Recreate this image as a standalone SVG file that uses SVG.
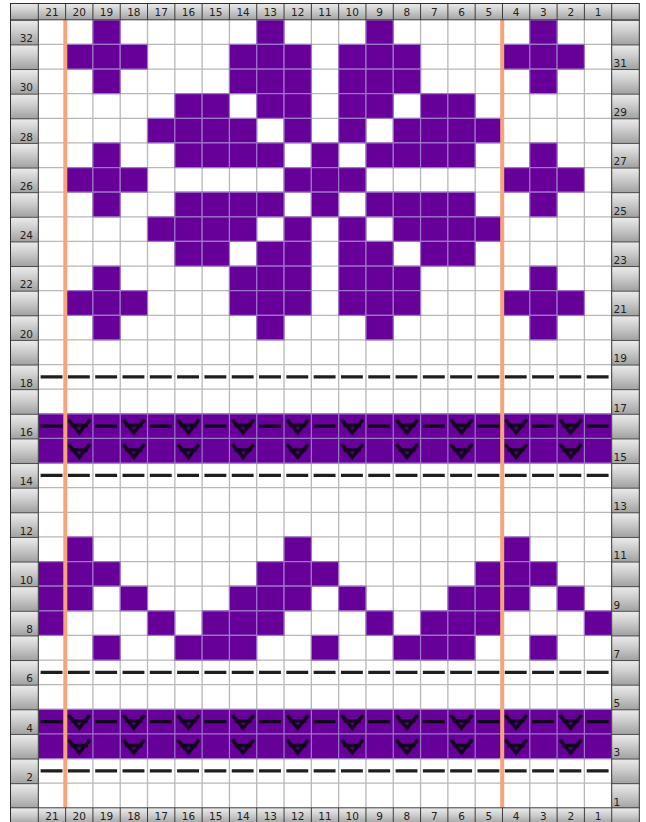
<svg xmlns="http://www.w3.org/2000/svg" width="646" height="822" viewBox="0 0 646 822">
<style>
.num{font-family:"DejaVu Sans","Liberation Sans",sans-serif;font-size:10.5px;fill:#222}
.hc{text-anchor:middle}
.le{text-anchor:end}
</style>
<defs>
<linearGradient id="gg" x1="0" y1="0" x2="0" y2="1">
<stop offset="0" stop-color="#ededed"/><stop offset="0.45" stop-color="#cecece"/><stop offset="1" stop-color="#a2a2a2"/>
</linearGradient>
<pattern id="mp" patternUnits="userSpaceOnUse" x="0" y="19.8" width="646" height="24.625">
<rect width="646" height="24.625" fill="url(#gg)"/>
<rect width="646" height="1" fill="#4a4a4a"/>
</pattern>
<pattern id="vp" patternUnits="userSpaceOnUse" x="38.3" y="19.8" width="54.61" height="24.625">
<path d="M30.2 5.8 L40.96 18.8 L51.7 5.8 M32.3 11.6 H49.6" fill="none" stroke="#12041c" stroke-width="3.6" stroke-linejoin="miter"/>
<path d="M38.9 15.6 L40.96 19.6 L43 15.6" fill="none" stroke="#12041c" stroke-width="2"/>
</pattern>
<rect id="c" width="1" height="1" fill="#660099" stroke="#9d74c9" stroke-width="1.2" vector-effect="non-scaling-stroke"/>
<g id="r0"><use href="#c" x="2"/><use href="#c" x="8"/><use href="#c" x="12"/><use href="#c" x="18"/></g>
<g id="r1"><use href="#c" x="1"/><use href="#c" x="2"/><use href="#c" x="3"/><use href="#c" x="7"/><use href="#c" x="8"/><use href="#c" x="9"/><use href="#c" x="11"/><use href="#c" x="12"/><use href="#c" x="13"/><use href="#c" x="17"/><use href="#c" x="18"/><use href="#c" x="19"/></g>
<g id="r2"><use href="#c" x="2"/><use href="#c" x="7"/><use href="#c" x="8"/><use href="#c" x="9"/><use href="#c" x="11"/><use href="#c" x="12"/><use href="#c" x="13"/><use href="#c" x="18"/></g>
<g id="r3"><use href="#c" x="5"/><use href="#c" x="6"/><use href="#c" x="8"/><use href="#c" x="9"/><use href="#c" x="11"/><use href="#c" x="12"/><use href="#c" x="14"/><use href="#c" x="15"/></g>
<g id="r4"><use href="#c" x="4"/><use href="#c" x="5"/><use href="#c" x="6"/><use href="#c" x="7"/><use href="#c" x="9"/><use href="#c" x="11"/><use href="#c" x="13"/><use href="#c" x="14"/><use href="#c" x="15"/><use href="#c" x="16"/></g>
<g id="r5"><use href="#c" x="2"/><use href="#c" x="5"/><use href="#c" x="6"/><use href="#c" x="7"/><use href="#c" x="8"/><use href="#c" x="10"/><use href="#c" x="12"/><use href="#c" x="13"/><use href="#c" x="14"/><use href="#c" x="15"/><use href="#c" x="18"/></g>
<g id="r6"><use href="#c" x="1"/><use href="#c" x="2"/><use href="#c" x="3"/><use href="#c" x="9"/><use href="#c" x="10"/><use href="#c" x="11"/><use href="#c" x="17"/><use href="#c" x="18"/><use href="#c" x="19"/></g>
</defs>

<rect width="646" height="822" fill="#ffffff"/>

<g id="grid" transform="translate(38.3 19.8) scale(27.305 24.625)">
<path d="M0 0V32M1 0V32M2 0V32M3 0V32M4 0V32M5 0V32M6 0V32M7 0V32M8 0V32M9 0V32M10 0V32M11 0V32M12 0V32M13 0V32M14 0V32M15 0V32M16 0V32M17 0V32M18 0V32M19 0V32M20 0V32M21 0V32M0 1H21M0 2H21M0 3H21M0 4H21M0 5H21M0 6H21M0 7H21M0 8H21M0 9H21M0 10H21M0 11H21M0 12H21M0 13H21M0 14H21M0 15H21M0 16H21M0 17H21M0 18H21M0 19H21M0 20H21M0 21H21M0 22H21M0 23H21M0 24H21M0 25H21M0 26H21M0 27H21M0 28H21M0 29H21M0 30H21M0 31H21" fill="none" stroke="#b8b8b8" stroke-width="1.3" vector-effect="non-scaling-stroke"/>
<g id="motif-top">
<use href="#r0" y="0"/><use href="#r1" y="1"/><use href="#r2" y="2"/><use href="#r3" y="3"/><use href="#r4" y="4"/><use href="#r5" y="5"/><use href="#r6" y="6"/><use href="#r5" y="7"/><use href="#r4" y="8"/><use href="#r3" y="9"/><use href="#r2" y="10"/><use href="#r1" y="11"/><use href="#r0" y="12"/>
</g>
<g id="motif-bottom">
<use href="#c" x="1" y="21"/><use href="#c" x="9" y="21"/><use href="#c" x="17" y="21"/>
<use href="#c" x="0" y="22"/><use href="#c" x="1" y="22"/><use href="#c" x="2" y="22"/><use href="#c" x="8" y="22"/><use href="#c" x="9" y="22"/><use href="#c" x="10" y="22"/><use href="#c" x="16" y="22"/><use href="#c" x="17" y="22"/><use href="#c" x="18" y="22"/>
<use href="#c" x="0" y="23"/><use href="#c" x="1" y="23"/><use href="#c" x="3" y="23"/><use href="#c" x="7" y="23"/><use href="#c" x="8" y="23"/><use href="#c" x="9" y="23"/><use href="#c" x="11" y="23"/><use href="#c" x="15" y="23"/><use href="#c" x="16" y="23"/><use href="#c" x="17" y="23"/><use href="#c" x="19" y="23"/>
<use href="#c" x="0" y="24"/><use href="#c" x="4" y="24"/><use href="#c" x="6" y="24"/><use href="#c" x="7" y="24"/><use href="#c" x="8" y="24"/><use href="#c" x="12" y="24"/><use href="#c" x="14" y="24"/><use href="#c" x="15" y="24"/><use href="#c" x="16" y="24"/><use href="#c" x="20" y="24"/>
<use href="#c" x="2" y="25"/><use href="#c" x="5" y="25"/><use href="#c" x="6" y="25"/><use href="#c" x="7" y="25"/><use href="#c" x="10" y="25"/><use href="#c" x="13" y="25"/><use href="#c" x="14" y="25"/><use href="#c" x="15" y="25"/><use href="#c" x="18" y="25"/>
</g>
<g id="bands">
<rect x="0" y="16" width="21" height="2" fill="#660099"/>
<rect x="0" y="28" width="21" height="2" fill="#660099"/>
<path d="M0 16H21M0 17H21M0 18H21M0 16V18M1 16V18M2 16V18M3 16V18M4 16V18M5 16V18M6 16V18M7 16V18M8 16V18M9 16V18M10 16V18M11 16V18M12 16V18M13 16V18M14 16V18M15 16V18M16 16V18M17 16V18M18 16V18M19 16V18M20 16V18M21 16V18M0 28H21M0 29H21M0 30H21M0 28V30M1 28V30M2 28V30M3 28V30M4 28V30M5 28V30M6 28V30M7 28V30M8 28V30M9 28V30M10 28V30M11 28V30M12 28V30M13 28V30M14 28V30M15 28V30M16 28V30M17 28V30M18 28V30M19 28V30M20 28V30M21 28V30" fill="none" stroke="#9d74c9" stroke-width="1.2" vector-effect="non-scaling-stroke"/>
</g>
</g>

<g id="symbols">
<g stroke="#1e1e1e" stroke-width="3.4">
<line x1="40.6" y1="376.86" x2="611.7" y2="376.86" stroke-dasharray="21.9 5.405"/>
<line x1="40.6" y1="475.36" x2="611.7" y2="475.36" stroke-dasharray="21.9 5.405"/>
<line x1="40.6" y1="672.36" x2="611.7" y2="672.36" stroke-dasharray="21.9 5.405"/>
<line x1="40.6" y1="770.86" x2="611.7" y2="770.86" stroke-dasharray="21.9 5.405"/>
<line x1="40.6" y1="426.11" x2="611.7" y2="426.11" stroke="#12041c" stroke-dasharray="21.9 32.71"/>
<line x1="40.6" y1="721.61" x2="611.7" y2="721.61" stroke="#12041c" stroke-dasharray="21.9 32.71"/>
</g>
<rect x="38.3" y="413.8" width="573.41" height="49.25" fill="url(#vp)"/>
<rect x="38.3" y="709.3" width="573.41" height="49.25" fill="url(#vp)"/>
</g>

<g id="repeat-lines" stroke="#f7a47c" stroke-width="4">
<line x1="65.3" y1="19.8" x2="65.3" y2="807.8"/>
<line x1="502.2" y1="19.8" x2="502.2" y2="807.8"/>
</g>

<g id="frame">
<rect x="10" y="3" width="629.3" height="16.8" fill="url(#gg)"/>
<rect x="10" y="807.8" width="629.3" height="16" fill="url(#gg)"/>
<rect x="10" y="19.8" width="28.3" height="788" fill="url(#mp)"/>
<rect x="611.7" y="19.8" width="27.6" height="788" fill="url(#mp)"/>
<path d="M38.3 3V19.8M65.61 3V19.8M92.91 3V19.8M120.22 3V19.8M147.52 3V19.8M174.83 3V19.8M202.13 3V19.8M229.44 3V19.8M256.74 3V19.8M284.05 3V19.8M311.35 3V19.8M338.66 3V19.8M365.96 3V19.8M393.27 3V19.8M420.57 3V19.8M447.88 3V19.8M475.18 3V19.8M502.49 3V19.8M529.79 3V19.8M557.1 3V19.8M584.4 3V19.8M611.71 3V19.8M38.3 807.8V824M65.61 807.8V824M92.91 807.8V824M120.22 807.8V824M147.52 807.8V824M174.83 807.8V824M202.13 807.8V824M229.44 807.8V824M256.74 807.8V824M284.05 807.8V824M311.35 807.8V824M338.66 807.8V824M365.96 807.8V824M393.27 807.8V824M420.57 807.8V824M447.88 807.8V824M475.18 807.8V824M502.49 807.8V824M529.79 807.8V824M557.1 807.8V824M584.4 807.8V824M611.71 807.8V824M10 19.8H639.3M10 807.8H639.3M38.3 19.8V807.8M611.7 19.8V807.8" fill="none" stroke="#3c3c3c" stroke-width="1"/>
<rect x="10.5" y="3.5" width="628.8" height="830" fill="none" stroke="#2e2e2e" stroke-width="1"/>
</g>

<g id="col-labels" class="num hc">
<text x="51.95" y="16.3">21</text><text x="79.26" y="16.3">20</text><text x="106.56" y="16.3">19</text><text x="133.87" y="16.3">18</text><text x="161.17" y="16.3">17</text><text x="188.48" y="16.3">16</text><text x="215.78" y="16.3">15</text><text x="243.09" y="16.3">14</text><text x="270.39" y="16.3">13</text><text x="297.7" y="16.3">12</text><text x="325" y="16.3">11</text><text x="352.31" y="16.3">10</text><text x="379.61" y="16.3">9</text><text x="406.92" y="16.3">8</text><text x="434.22" y="16.3">7</text><text x="461.53" y="16.3">6</text><text x="488.83" y="16.3">5</text><text x="516.14" y="16.3">4</text><text x="543.44" y="16.3">3</text><text x="570.75" y="16.3">2</text><text x="598.05" y="16.3">1</text>
<text x="51.95" y="819.5">21</text><text x="79.26" y="819.5">20</text><text x="106.56" y="819.5">19</text><text x="133.87" y="819.5">18</text><text x="161.17" y="819.5">17</text><text x="188.48" y="819.5">16</text><text x="215.78" y="819.5">15</text><text x="243.09" y="819.5">14</text><text x="270.39" y="819.5">13</text><text x="297.7" y="819.5">12</text><text x="325" y="819.5">11</text><text x="352.31" y="819.5">10</text><text x="379.61" y="819.5">9</text><text x="406.92" y="819.5">8</text><text x="434.22" y="819.5">7</text><text x="461.53" y="819.5">6</text><text x="488.83" y="819.5">5</text><text x="516.14" y="819.5">4</text><text x="543.44" y="819.5">3</text><text x="570.75" y="819.5">2</text><text x="598.05" y="819.5">1</text>
</g>

<g id="row-labels-left" class="num le">
<text x="33" y="42.1">32</text><text x="33" y="91.4">30</text><text x="33" y="140.6">28</text><text x="33" y="189.9">26</text><text x="33" y="239.1">24</text><text x="33" y="288.4">22</text><text x="33" y="337.6">20</text><text x="33" y="386.9">18</text><text x="33" y="436.1">16</text><text x="33" y="485.4">14</text><text x="33" y="534.6">12</text><text x="33" y="583.9">10</text><text x="33" y="633.1">8</text><text x="33" y="682.4">6</text><text x="33" y="731.6">4</text><text x="33" y="780.9">2</text>
</g>
<g id="row-labels-right" class="num">
<text x="613.5" y="66.8">31</text><text x="613.5" y="116">29</text><text x="613.5" y="165.3">27</text><text x="613.5" y="214.5">25</text><text x="613.5" y="263.8">23</text><text x="613.5" y="313">21</text><text x="613.5" y="362.3">19</text><text x="613.5" y="411.5">17</text><text x="613.5" y="460.8">15</text><text x="613.5" y="510">13</text><text x="613.5" y="559.3">11</text><text x="613.5" y="608.5">9</text><text x="613.5" y="657.8">7</text><text x="613.5" y="707">5</text><text x="613.5" y="756.3">3</text><text x="613.5" y="805.5">1</text>
</g>
</svg>
